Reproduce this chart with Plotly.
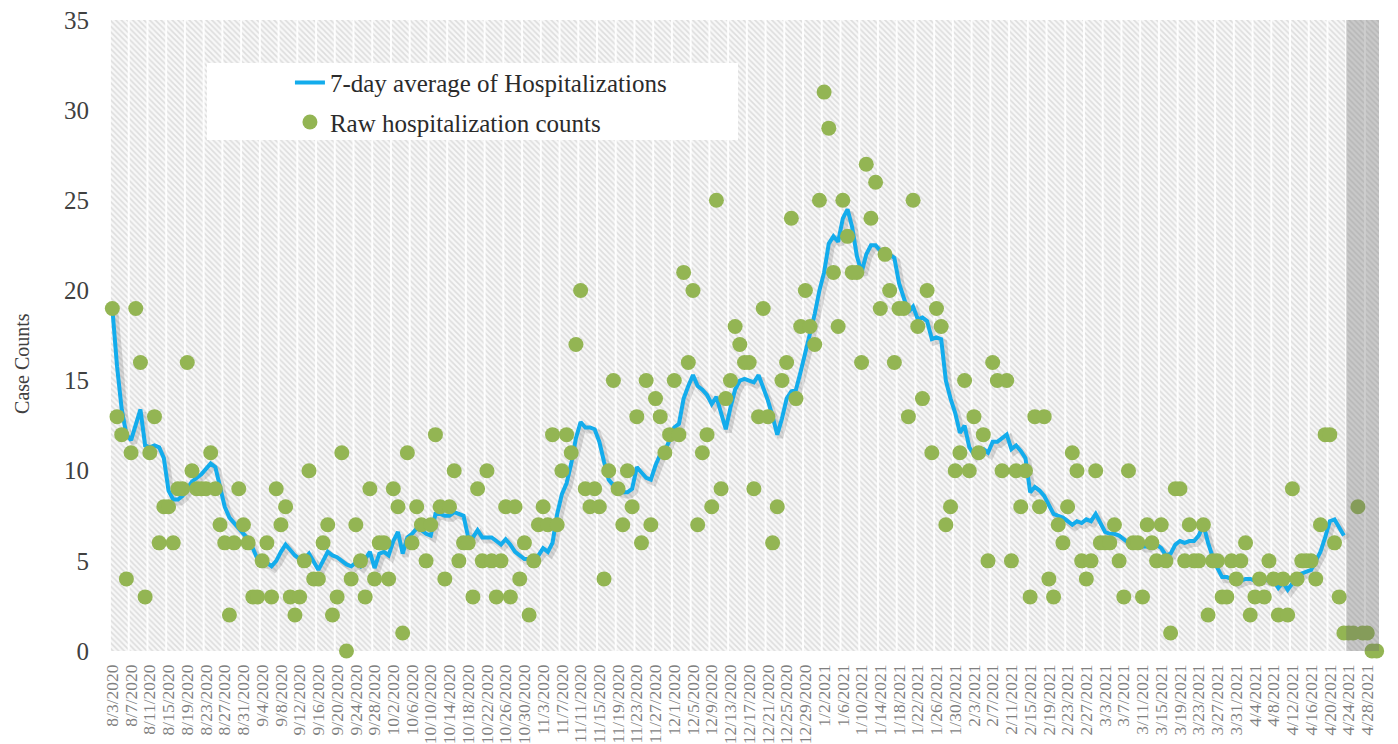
import pandas as pd
import plotly.graph_objects as go

# ---------------- data ----------------
start_date = "2020-08-03"

raw_counts = [
    19, 13, 12, 4, 11, 19, 16, 3, 11, 13,
    6, 8, 8, 6, 9, 9, 16, 10, 9, 9,
    9, 11, 9, 7, 6, 2, 6, 9, 7, 6,
    3, 3, 5, 6, 3, 9, 7, 8, 3, 2,
    3, 5, 10, 4, 4, 6, 7, 2, 3, 11,
    0, 4, 7, 5, 3, 9, 4, 6, 6, 4,
    9, 8, 1, 11, 6, 8, 7, 5, 7, 12,
    8, 4, 8, 10, 5, 6, 6, 3, 9, 5,
    10, 5, 3, 5, 8, 3, 8, 4, 6, 2,
    5, 7, 8, 7, 12, 7, 10, 12, 11, 17,
    20, 9, 8, 9, 8, 4, 10, 15, 9, 7,
    10, 8, 13, 6, 15, 7, 14, 13, 11, 12,
    15, 12, 21, 16, 20, 7, 11, 12, 8, 25,
    9, 14, 15, 18, 17, 16, 16, 9, 13, 19,
    13, 6, 8, 15, 16, 24, 14, 18, 20, 18,
    17, 25, 31, 29, 21, 18, 25, 23, 21, 21,
    16, 27, 24, 26, 19, 22, 20, 16, 19, 19,
    13, 25, 18, 14, 20, 11, 19, 18, 7, 8,
    10, 11, 15, 10, 13, 11, 12, 5, 16, 15,
    10, 15, 5, 10, 8, 10, 3, 13, 8, 13,
    4, 3, 7, 6, 8, 11, 10, 5, 4, 5,
    10, 6, 6, 6, 7, 5, 3, 10, 6, 6,
    3, 7, 6, 5, 7, 5, 1, 9, 9, 5,
    7, 5, 5, 7, 2, 5, 5, 3, 3, 5,
    4, 5, 6, 2, 3, 4, 3, 5, 4, 2,
    4, 2, 9, 4, 5, 5, 5, 4, 7, 12,
    12, 6, 3, 1, 1, 1, 8, 1, 1, 0,
    0,
]

avg_7day = [
    19.0, 15.8, 13.4, 12.0, 11.7, 12.6, 13.4, 11.4, 11.3, 11.4,
    11.3, 10.7, 8.9, 8.4, 8.4, 8.6, 9.0, 9.4, 9.6, 9.8,
    10.1, 10.4, 10.2, 9.0, 8.0, 7.4, 7.1, 6.8, 6.5, 6.2,
    5.7, 5.1, 4.9, 4.9, 4.7, 5.0, 5.5, 5.9, 5.6, 5.3,
    5.1, 5.1, 5.4, 5.0, 4.5, 5.0, 5.5, 5.3, 5.2, 5.0,
    4.8, 4.7, 4.9, 4.7, 5.1, 5.5, 4.6, 5.4, 5.5, 5.3,
    6.1, 6.6, 5.4, 6.3, 6.5, 6.8, 6.7, 6.5, 6.4, 7.6,
    7.6, 7.5, 7.5, 7.7, 7.6, 7.5, 6.3, 6.3, 6.7, 6.3,
    6.3, 6.3, 6.1, 5.9, 6.2, 5.9, 5.5, 5.3, 5.1, 5.1,
    5.0, 5.3, 5.7, 5.5, 6.0, 7.6, 8.7, 9.3, 10.4, 11.8,
    12.7, 12.4, 12.4, 12.3, 11.6, 10.5, 9.5, 9.2, 8.9, 8.8,
    8.8, 9.0, 10.2, 9.9, 9.6, 9.5, 10.3, 10.9, 11.1, 11.7,
    12.4, 12.6, 14.0, 14.7, 15.3, 14.7, 14.5, 14.2, 13.7, 14.1,
    13.2, 12.3, 13.5, 14.5, 15.0, 15.1, 15.0, 14.9, 15.3, 14.6,
    13.9, 13.0, 12.0, 12.9, 14.0, 14.4, 14.5, 15.5, 16.5, 17.7,
    18.7, 20.0, 21.0, 22.6, 23.0, 22.7, 24.0, 24.5, 23.5, 21.9,
    21.0, 22.0, 22.5, 22.5, 22.2, 22.1, 22.0, 21.8, 20.4, 19.6,
    18.8, 19.1, 18.4, 18.5, 18.3, 17.3, 17.4, 17.3, 15.0, 14.0,
    13.2, 12.1, 12.5, 11.3, 10.9, 11.2, 11.2, 11.0, 11.6, 11.6,
    11.8, 12.0, 11.2, 11.4, 11.1, 10.7, 8.8, 9.1, 8.9, 8.6,
    8.1, 7.6, 7.5, 7.4, 7.2, 7.0, 7.2, 7.1, 7.3, 7.2,
    7.6, 7.1, 6.6, 6.5, 6.5, 6.4, 6.2, 6.0, 6.0, 6.0,
    5.8, 5.8, 6.0, 5.9, 5.7, 5.3, 5.4, 5.9, 6.1, 6.0,
    6.1, 6.1, 6.4, 7.0, 6.0, 5.2, 4.6, 4.1, 4.1, 4.0,
    3.8, 3.9, 4.0, 4.0, 3.9, 4.0, 4.0, 3.9, 3.9, 3.5,
    3.8, 3.4, 3.8, 4.1, 4.3, 4.4, 4.5, 5.0, 5.5, 6.3,
    7.2, 7.3, 6.9, 6.4,
]

tick_every_days = 4
shaded_days = 7          # last week is shaded (incomplete data)
y_max = 35
y_step = 5

line_name = "7-day average of Hospitalizations"
dots_name = "Raw hospitalization counts"
y_title = "Case Counts"

# ---------------- derived axis helpers ----------------
dates = pd.date_range(start_date, periods=len(raw_counts), freq="D")
avg_dates = dates[:len(avg_7day)]
tick_dates = dates[::tick_every_days]
tick_labels = [f"{d.month}/{d.day}/{d.year}" for d in tick_dates]

half = pd.Timedelta(hours=12)
x_lo = dates[0] - half
x_hi = dates[-1] + half

FONT = "Liberation Serif"
LINE_BLUE = "#13ACEC"
DOT_GREEN = "#93B553"

fig = go.Figure()

# hatched plot background
fig.add_trace(go.Scatter(
    x=[x_lo, x_hi, x_hi, x_lo, x_lo], y=[0, 0, y_max, y_max, 0],
    mode="lines", line=dict(width=0), fill="toself",
    fillcolor="#f8f8f8",
    fillpattern=dict(shape="\\", fgcolor="#c2c2c2", bgcolor="#f8f8f8",
                     size=4, solidity=0.4),
    hoverinfo="skip", showlegend=False))

# light vertical grid bands between categories (every 4 days)
gx, gy = [], []
for d in tick_dates:
    g = d - half
    gx += [g, g, None]
    gy += [0, y_max, None]
fig.add_trace(go.Scatter(x=gx, y=gy, mode="lines",
                         line=dict(color="rgba(255,255,255,0.9)", width=2),
                         hoverinfo="skip", showlegend=False))

# soft shadow under the average line
fig.add_trace(go.Scatter(
    x=avg_dates + pd.Timedelta(hours=15), y=[v - 0.17 for v in avg_7day],
    mode="lines", line=dict(color="rgba(0,0,0,0.13)", width=6),
    hoverinfo="skip", showlegend=False))

fig.add_trace(go.Scatter(
    x=avg_dates, y=avg_7day, mode="lines", name=line_name,
    line=dict(color=LINE_BLUE, width=4), legendgroup="a"))

fig.add_trace(go.Scatter(
    x=dates, y=raw_counts, mode="markers", name=dots_name,
    marker=dict(color=DOT_GREEN, size=15, line=dict(width=0)),
    cliponaxis=False, legendgroup="b"))

# shaded final week (on top of the points)
fig.add_shape(type="rect", xref="x", yref="y",
              x0=dates[-shaded_days] - half, x1=x_hi, y0=0, y1=y_max,
              fillcolor="rgba(105,105,105,0.33)", line=dict(width=0),
              layer="above")

# white legend box
fig.add_shape(type="rect", xref="paper", yref="paper",
              x0=0.0764, x1=0.4949, y0=0.810, y1=0.932,
              fillcolor="white", line=dict(width=0), layer="above")

# y-axis title (sits a little below the middle, as in the reference)
fig.add_annotation(text=y_title, textangle=-90, xref="paper", yref="paper",
                   x=-0.0693, y=0.455, xanchor="center", yanchor="middle",
                   showarrow=False,
                   font=dict(family=FONT, size=20, color="#404040"))

fig.update_layout(
    width=1398, height=744,
    margin=dict(l=110, r=19, t=20, b=93),
    plot_bgcolor="white", paper_bgcolor="white",
    font=dict(family=FONT, color="#404040"),
    showlegend=True,
    legend=dict(x=0.1418, y=0.937, xanchor="left", yanchor="top",
                bgcolor="rgba(0,0,0,0)", borderwidth=0,
                font=dict(family=FONT, size=25, color="#2b2b2b"),
                tracegroupgap=4),
    xaxis=dict(type="date", range=[x_lo, x_hi], automargin=False,
               tickmode="array", tickvals=list(tick_dates), ticktext=tick_labels,
               tickangle=-90, tickfont=dict(family=FONT, size=17.5, color="#7f7f7f"),
               showgrid=False, zeroline=False, showline=False, ticks="",
               ticklabelstandoff=9),
    yaxis=dict(range=[0, y_max], tick0=0, dtick=y_step, automargin=False,
               tickfont=dict(family=FONT, size=25, color="#404040"),
               showgrid=False, zeroline=False, showline=False, ticks="",
               ticklabelstandoff=20),
)

fig.write_html("out.html", config={"displayModeBar": False},
               post_script="document.body.style.margin='0';document.body.style.padding='0';")
